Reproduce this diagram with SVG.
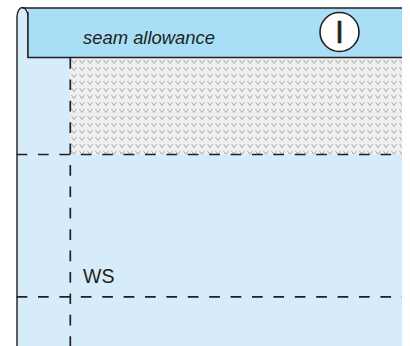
<svg xmlns="http://www.w3.org/2000/svg" width="410" height="346" viewBox="0 0 410 346">
<style>
.edge{fill:none;stroke:#231f20;stroke-width:1.4}
.dash{fill:none;stroke:#231f20;stroke-width:1.7;stroke-dasharray:10.7 10.7}
.lbl{font-family:"Liberation Sans","DejaVu Sans",sans-serif;fill:#231f20}
</style>
<defs>
<pattern id="knit" x="70" y="58" width="8" height="7" patternUnits="userSpaceOnUse">
<rect width="8" height="7" fill="#efeff0"/>
<path d="M1.5 2 L4 5.5 L6.5 2" fill="none" stroke="#a9a9ab" stroke-width="1"/>
</pattern>
</defs>
<rect width="410" height="346" fill="#ffffff"/>
<g id="fabric">
<path d="M17 346 L17 17 A5.5 9.5 0 0 1 28 17 L28 8 L402 8 L402 346 Z" fill="#d6ecfa"/>
<rect x="70" y="58" width="332" height="96.5" fill="url(#knit)"/>
<path class="edge" d="M17 346 L17 17 A5.5 9.5 0 0 1 28 17 L28 57.5"/>
</g>
<g id="band">
<rect x="28" y="8" width="374" height="49.5" fill="#a8def6"/>
<path class="edge" d="M22.5 8 L402 8 M28 12 L28 57.5 L402 57.5"/>
<text class="lbl" x="83" y="44.3" font-size="19" font-style="italic" textLength="132" lengthAdjust="spacingAndGlyphs">seam allowance</text>
</g>
<g id="badge">
<circle cx="339.5" cy="32" r="19.5" fill="#ffffff" stroke="#231f20" stroke-width="1.6"/>
<text class="lbl" x="339.5" y="42.7" font-size="30.5" text-anchor="middle" stroke="#231f20" stroke-width="0.7">I</text>
</g>
<g id="connectors">
<path class="dash" d="M70.3 58 L70.3 346"/>
<path class="dash" d="M16.6 154.5 L402 154.5"/>
<path class="dash" d="M16.6 296.8 L402 296.8"/>
</g>
<g id="ws">
<text class="lbl" x="83" y="283.3" font-size="19.5">WS</text>
</g>
</svg>
